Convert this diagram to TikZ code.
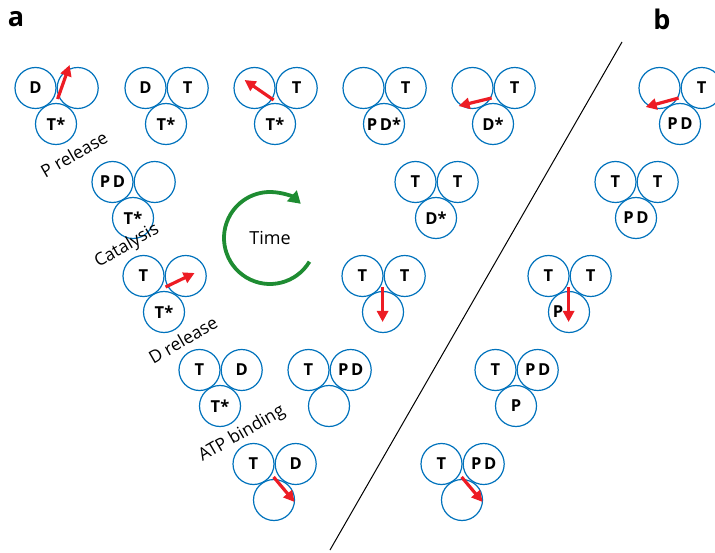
\documentclass[tikz,border=0pt]{standalone}
\usepackage{fontspec}
\setmainfont{Open Sans}
\usetikzlibrary{positioning,arrows.meta}
\definecolor{ringblue}{RGB}{0,114,188}
\definecolor{armred}{RGB}{237,28,36}
\definecolor{timegreen}{RGB}{30,140,50}
\begin{document}
\begin{tikzpicture}[
            x=1pt, y=-1pt,
            unit/.style={circle, draw=ringblue, line width=1.2pt, minimum size=41pt, inner sep=0pt,
                font=\fontsize{16.5}{16.5}\selectfont\bfseries},
            swing/.style={draw=armred, line width=3.2pt, -{Triangle[length=11pt,width=11pt]}},
            steplabel/.style={rotate=30, font=\fontsize{17.5}{17.5}\selectfont},
            panel/.style={font=\fontsize{27}{27}\selectfont\bfseries}
        ]
        \useasboundingbox (0,0) rectangle (715,553);
        \node[panel] (pa) at (16,19) {a};
        \node[panel] (pb) at (662,19) {b};
        % triplets: name / x / y / left / right / bottom
        \foreach \n/\x/\y/\l/\r/\b in {
                a1/56/88/D/{}/T*, a2/166/88/D/T/T*, a3/275/88/{}/T/T*,
                a4/384/88/{}/T/P\,D*, a5/493/88/{}/T/D*,
                a6/133/182/P\,D/{}/T*, a7/436/182/T/T/D*,
                a8/164/276/T/{}/T*, a9/383/276/T/T/{},
                a10/220/370/T/D/T*, a11/329/370/T/P\,D/{},
                a12/274/464/T/D/{},
                b1/680/88/{}/T/P\,D, b2/636/182/T/T/P\,D,
                b3/569/276/T/T/{P\kern22pt}, b4/516/370/T/P\,D/P,
                b5/462/464/T/P\,D/{}} {
            \node[unit] (\n l) at (\x-20.5,\y) {\l};
            \node[unit, right=0pt of \n l] (\n r) {\r};
            \node[unit] (\n b) at (\x,\y+36) {\b};
        }
        % moving arms
        \draw[swing] ([shift={(1,11)}]a1l.east) -- ([shift={(13,-23)}]a1l.east);
        \draw[swing] ([shift={(-2,12)}]a3l.east) -- ([shift={(-31,-8)}]a3l.east);
        \draw[swing] ([shift={(-2,10)}]a5l.east) -- ([shift={(-35,18)}]a5l.east);
        \draw[swing] ([shift={(-2,10)}]b1l.east) -- ([shift={(-35,19)}]b1l.east);
        \draw[swing] ([shift={(1,11)}]a8l.east) -- ([shift={(30,-3)}]a8l.east);
        \draw[swing] ([shift={(-1,11)}]a9l.east) -- ([shift={(-1,46)}]a9l.east);
        \draw[swing] ([shift={(-1,11)}]b3l.east) -- ([shift={(-1,46)}]b3l.east);
        \draw[swing] ([shift={(-1,13)}]a12l.east) -- ([shift={(20,38)}]a12l.east);
        \draw[swing] ([shift={(-1,13)}]b5l.east) -- ([shift={(20,38)}]b5l.east);
        % steps
        \node[steplabel] (s1) at (74,154) {P release};
        \node[steplabel] (s2) at (127,246) {Catalysis};
        \node[steplabel] (s3) at (183,340) {D release};
        \node[steplabel] (s4) at (242,434) {ATP binding};
        % time
        \node[font=\fontsize{18}{18}\selectfont] (time) at (270,238) {Time};
        \draw[timegreen, line width=3.8pt, -{Triangle[length=12pt,width=14pt]}]
            ([shift={(31:46)}]time.center) arc[start angle=31, end angle=312, radius=46];
        % divider
        \coordinate (top) at (622,42);
        \coordinate (bot) at (330,550);
        \draw[line width=1pt] (top) -- (bot);
    \end{tikzpicture}
\end{document}
